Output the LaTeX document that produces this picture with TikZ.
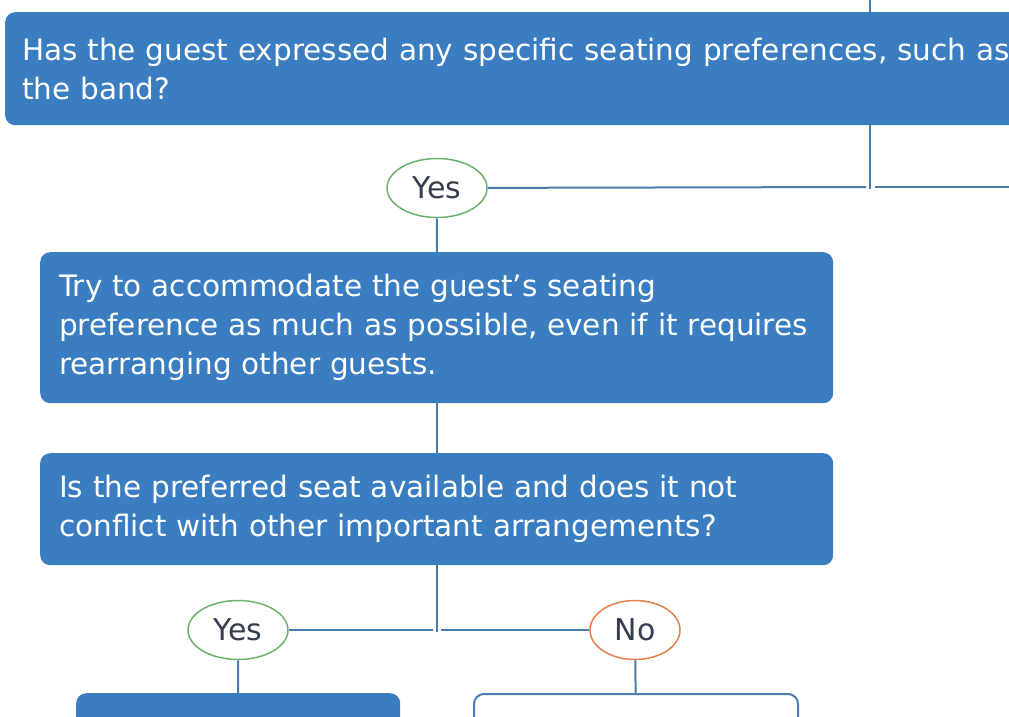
\documentclass[tikz,border=0pt]{standalone}
\usepackage{fontspec}
\setmainfont{DejaVu Sans}
\usetikzlibrary{positioning, shapes.geometric}
\definecolor{boxblue}{HTML}{3A7DC0}
\definecolor{linkblue}{HTML}{4A7CAB}
\definecolor{yesgreen}{HTML}{6BB26A}
\definecolor{noorange}{HTML}{E0804A}
\definecolor{labelgray}{HTML}{333D4D}

\begin{document}
\begin{tikzpicture}[
    x=1pt, y=-1pt,
    qbox/.style={rounded corners=10pt, fill=boxblue, text=white, align=left,
                 anchor=north west, inner xsep=19pt, inner ysep=0pt,
                 font=\fontsize{29.5}{39}\selectfont, text width=#1},
    qbox/.default=755pt,
    obox/.style={rounded corners=10pt, draw=linkblue, line width=2pt, fill=white,
                 anchor=north west, minimum width=324pt, minimum height=80pt},
    answer/.style={ellipse, draw=#1, line width=1.5pt, fill=white, inner sep=0pt,
                   minimum width=100pt, minimum height=59pt, text=labelgray,
                   font=\fontsize{30}{34}\selectfont},
    answer/.default=yesgreen,
    link/.style={draw=linkblue, line width=2pt},
]
\useasboundingbox (0,0) rectangle (1009,716);
\clip (0,0) rectangle (1009,716);

% Question and action boxes
\node[qbox=1400pt, inner xsep=17pt, minimum height=113pt] (q1) at (5,12)
  {Has the guest expressed any specific seating preferences, such as\\the band?};
\node[qbox, minimum height=151pt] (a1) at (40,252)
  {Try to accommodate the guest’s seating\\preference as much as possible, even if it requires\\rearranging other guests.};
\node[qbox, minimum height=112pt] (q2) at (40,453)
  {Is the preferred seat available and does it not\\conflict with other important arrangements?};
\node[qbox=286pt, minimum height=80pt] (a2) at (76,693) {};
\node[obox] (a3) at (473,693) {};

% Answer ellipses
\node[answer] (yes1) at (437,188) {Yes};
\node[answer] (yes2) at (238,630) {Yes};
\node[answer=noorange, minimum width=90pt] (no2) at (635,630) {No};

% Fork points
\coordinate (top1)  at (870,-5);
\coordinate (fork1) at (870,187);
\coordinate (off1)  at (1020,187);
\coordinate (fork2) at (437,630);

% Connectors
\draw[link] (top1) -- (top1 |- q1.north);
\draw[link] (fork1 |- q1.south) -- ([yshift=-2pt]fork1);
\draw[link] (yes1) -- ([xshift=-4pt]fork1);
\draw[link] ([xshift=5pt]fork1) -- (off1);
\draw[link] (yes1) -- (a1);
\draw[link] (a1) -- (q2);
\draw[link] (fork2 |- q2.south) -- ([yshift=-2pt]fork2);
\draw[link] (yes2) -- ([xshift=-4pt]fork2);
\draw[link] ([xshift=4pt]fork2) -- (no2);
\draw[link] (yes2) -- (a2);
\draw[link] (no2) -- (a3);
\end{tikzpicture}
\end{document}
